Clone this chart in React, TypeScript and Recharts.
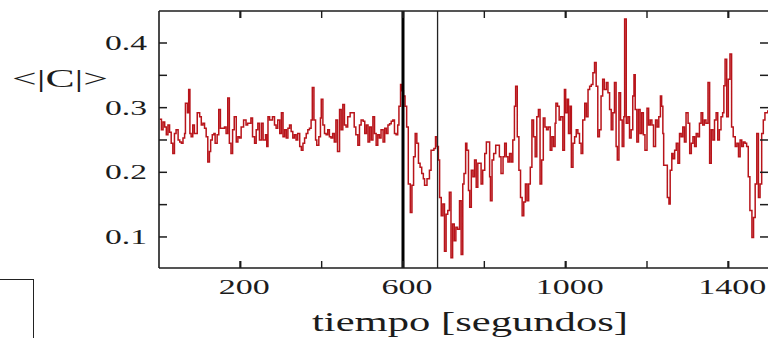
import React from 'react';
import { LineChart, Line, XAxis, YAxis, ReferenceLine, Label } from 'recharts';

// time in seconds
const times = [
  2, 6, 10, 14, 18, 22, 26, 30, 34, 38, 42, 47, 51, 55, 59, 63, 65, 70, 73, 76, 79, 83, 87, 94, 100, 104, 108, 112, 116, 120,
  124, 127, 131, 135, 138, 143, 147, 151, 157, 161, 165, 169, 173, 177, 181, 185, 190, 194, 198, 202, 208, 214, 218, 226, 230, 235, 239, 243, 247,
  252, 256, 262, 265, 268, 272, 279, 284, 288, 292, 297, 301, 305, 309, 313, 317, 321, 325, 329, 333, 337, 341, 346, 350, 354, 358, 362, 366, 370, 374,
  377, 381, 385, 388, 393, 397, 399, 403, 407, 411, 415, 419, 423, 427, 431, 435, 439, 444, 448, 452, 456, 460, 464, 470, 476, 480, 484, 489, 493, 497,
  502, 506, 510, 514, 518, 522, 526, 530, 534, 538, 542, 546, 551, 555, 559, 563, 567, 571, 575, 579, 583, 587, 590, 594, 597, 601, 605, 609, 613, 618,
  622, 626, 630, 634, 638, 642, 646, 650, 653, 659, 665, 669, 676, 680, 684, 687, 690, 694, 698, 702, 706, 710, 714, 718, 722, 726, 730, 734, 739, 743, 747,
  750, 754, 757, 761, 764, 768, 772, 776, 780, 784, 788, 792, 796, 801, 805, 809, 813, 815, 819, 823, 828, 833, 837, 841, 846, 850, 854, 858, 862, 866,
  870, 874, 877, 881, 885, 889, 893, 897, 901, 905, 909, 913, 917, 921, 925, 929, 933, 937, 941, 945, 949, 953, 957, 962, 966, 970, 974, 976, 980, 984, 988, 993, 997,
  1000, 1004, 1007, 1011, 1014, 1018, 1022, 1026, 1030, 1034, 1038, 1042, 1047, 1051, 1055, 1059, 1063, 1067, 1071, 1075, 1079, 1083, 1087, 1091, 1095,
  1100, 1104, 1108, 1112, 1116, 1120, 1124, 1127, 1131, 1135, 1139, 1143, 1145, 1149, 1153, 1157, 1161, 1165, 1168, 1171, 1175, 1179, 1183, 1187, 1191, 1195,
  1200, 1204, 1208, 1212, 1216, 1221, 1225, 1229, 1233, 1236, 1239, 1241, 1247,
  1250, 1254, 1257, 1261, 1264, 1268, 1272, 1276, 1280, 1284, 1288, 1292, 1296, 1301, 1305, 1309, 1313, 1317, 1321, 1325, 1329, 1333, 1337, 1341, 1345,
  1350, 1354, 1358, 1362, 1366, 1370, 1374, 1378, 1382, 1386, 1389, 1392, 1396, 1400, 1404, 1408, 1412, 1417, 1421, 1425, 1429, 1433, 1437, 1441, 1445,
  1449, 1453, 1458, 1462, 1466, 1470, 1474, 1478, 1482, 1486, 1490, 1497,
];

// <|C|> values
const cValues = [
  0.282, 0.266, 0.278, 0.27, 0.258, 0.273, 0.262, 0.245, 0.229, 0.26, 0.266, 0.25, 0.247, 0.245, 0.253, 0.26, 0.307, 0.292, 0.328, 0.26, 0.255, 0.273, 0.26, 0.292, 0.286, 0.273, 0.276, 0.268, 0.255, 0.216,
  0.232, 0.25, 0.258, 0.26, 0.245, 0.258, 0.297, 0.268, 0.268, 0.27, 0.26, 0.315, 0.245, 0.229, 0.266, 0.286, 0.247, 0.255, 0.253, 0.27, 0.281, 0.273, 0.276, 0.284, 0.255, 0.245, 0.266, 0.276, 0.25,
  0.276, 0.25, 0.258, 0.24, 0.286, 0.281, 0.286, 0.273, 0.268, 0.281, 0.26, 0.292, 0.255, 0.266, 0.253, 0.268, 0.273, 0.263, 0.253, 0.258, 0.25, 0.26, 0.24, 0.234, 0.245, 0.253, 0.26, 0.266, 0.268, 0.281,
  0.331, 0.281, 0.25, 0.242, 0.255, 0.284, 0.313, 0.273, 0.26, 0.258, 0.266, 0.255, 0.253, 0.26, 0.247, 0.281, 0.232, 0.297, 0.266, 0.305, 0.273, 0.27, 0.286, 0.292, 0.292, 0.27, 0.258, 0.242, 0.273, 0.281,
  0.279, 0.26, 0.273, 0.247, 0.27, 0.25, 0.286, 0.26, 0.242, 0.258, 0.253, 0.266, 0.247, 0.268, 0.26, 0.273, 0.275, 0.279, 0.281, 0.26, 0.258, 0.273, 0.302, 0.336, 0.326, 0.318, 0.302, 0.27, 0.182, 0.138,
  0.18, 0.224, 0.26, 0.245, 0.214, 0.208, 0.198, 0.19, 0.18, 0.19, 0.203, 0.234, 0.237, 0.255, 0.24, 0.219, 0.161, 0.133, 0.151, 0.078, 0.135, 0.141, 0.169, 0.068, 0.12, 0.094, 0.115, 0.112, 0.156, 0.073, 0.182,
  0.198, 0.245, 0.234, 0.172, 0.146, 0.203, 0.193, 0.219, 0.177, 0.214, 0.214, 0.182, 0.203, 0.229, 0.247, 0.247, 0.193, 0.156, 0.219, 0.229, 0.242, 0.242, 0.224, 0.198, 0.224, 0.245, 0.224, 0.216, 0.229, 0.216,
  0.25, 0.302, 0.333, 0.255, 0.203, 0.161, 0.133, 0.154, 0.182, 0.156, 0.182, 0.208, 0.281, 0.255, 0.224, 0.286, 0.297, 0.182, 0.219, 0.284, 0.27, 0.266, 0.27, 0.234, 0.255, 0.24, 0.276, 0.307, 0.302, 0.281, 0.286, 0.234, 0.328,
  0.292, 0.313, 0.26, 0.302, 0.208, 0.245, 0.255, 0.266, 0.26, 0.245, 0.229, 0.281, 0.307, 0.286, 0.328, 0.333, 0.336, 0.354, 0.37, 0.333, 0.255, 0.266, 0.318, 0.344, 0.328,
  0.339, 0.323, 0.297, 0.266, 0.292, 0.339, 0.24, 0.219, 0.323, 0.281, 0.24, 0.286, 0.437, 0.276, 0.286, 0.253, 0.266, 0.318, 0.351, 0.297, 0.247, 0.297, 0.26, 0.292, 0.258, 0.234,
  0.299, 0.273, 0.281, 0.273, 0.24, 0.281, 0.27, 0.286, 0.318, 0.302, 0.26, 0.211, 0.211,
  0.161, 0.151, 0.203, 0.229, 0.221, 0.234, 0.245, 0.214, 0.26, 0.255, 0.27, 0.247, 0.292, 0.276, 0.229, 0.245, 0.255, 0.24, 0.26, 0.255, 0.276, 0.292, 0.273, 0.281, 0.276,
  0.339, 0.214, 0.266, 0.25, 0.281, 0.292, 0.25, 0.266, 0.286, 0.292, 0.334, 0.375, 0.286, 0.344, 0.383, 0.27, 0.255, 0.24, 0.245, 0.224, 0.25, 0.24, 0.247, 0.245, 0.24,
  0.193, 0.141, 0.099, 0.13, 0.182, 0.26, 0.161, 0.182, 0.26, 0.281, 0.292, 0.296,
];

const xTicks = [200, 400, 600, 800, 1000, 1200, 1400];
const xTickLabels = ['200', '600', '1000', '1400'];
const yTicks = [0.1, 0.15, 0.2, 0.25, 0.3, 0.35, 0.4];
const yTickLabels = ['0.1', '0.2', '0.3', '0.4'];
const markerTimes = [600, 685];
const xTitle = 'tiempo [segundos]';
const yTitle = '<|C|>';

const data = times.map((t, i) => ({ t, v: cValues[i] }));

const FONT = '"Liberation Serif", "Times New Roman", serif';
const INK = '#1c1c1c';

const BottomTick = (props: any) => {
  const { x, y, payload } = props;
  const label = String(payload.value);
  const major = xTickLabels.includes(label);
  const len = label.length * 17;
  return (
    <g>
      <line x1={x} y1={y} x2={x} y2={y - 7} stroke={INK} strokeWidth={major ? 2.2 : 1.4} />
      {major && (
        <text x={x + 4 - len / 2} y={y + 26} fontFamily={FONT} fontSize={20} fill={INK}
          textLength={len} lengthAdjust="spacingAndGlyphs">{label}</text>
      )}
    </g>
  );
};

const TopTick = (props: any) => {
  const { x, y, payload } = props;
  const major = xTickLabels.includes(String(payload.value));
  return <line x1={x} y1={y} x2={x} y2={y + 7} stroke={INK} strokeWidth={major ? 2.2 : 1.4} />;
};

const isMajorY = (v: number) => yTickLabels.includes(v.toFixed(1)) && Math.abs(v * 10 - Math.round(v * 10)) < 1e-6;

const LeftTick = (props: any) => {
  const { x, y, payload } = props;
  const v = Number(payload.value);
  const major = isMajorY(v);
  return (
    <g>
      <line x1={x} y1={y} x2={x + 8} y2={y} stroke={INK} strokeWidth={1.5} />
      {major && (
        <text x={x - 54} y={y + 7} fontFamily={FONT} fontSize={20} fill={INK}
          textLength={42} lengthAdjust="spacingAndGlyphs">{v.toFixed(1)}</text>
      )}
    </g>
  );
};

const RightTick = (props: any) => {
  const { x, y } = props;
  return <line x1={x} y1={y} x2={x - 9} y2={y} stroke={INK} strokeWidth={1.5} />;
};

export default function App() {
  return (
    <div style={{ position: 'absolute', left: 0, top: 0, width: 768, height: 338, overflow: 'hidden', background: '#fff' }}>
      <LineChart width={780} height={338} data={data} margin={{ top: 0, right: 0, bottom: 0, left: 0 }}>
        <XAxis xAxisId="b" dataKey="t" type="number" domain={[0, 1500]} ticks={xTicks} interval={0}
          allowDataOverflow orientation="bottom" height={70} tickSize={0} tickMargin={0} tickLine={false}
          axisLine={{ stroke: INK, strokeWidth: 1.6 }} tick={BottomTick}>
          <Label content={(p: any) => {
            const vb = p.viewBox || { x: 159, y: 268 };
            return (
              <text x={vb.x + 153} y={vb.y + 63} fontFamily={FONT} fontSize={28} fill={INK}
                textLength={316} lengthAdjust="spacingAndGlyphs">{xTitle}</text>
            );
          }} />
        </XAxis>
        <XAxis xAxisId="t" dataKey="t" type="number" domain={[0, 1500]} ticks={xTicks} interval={0}
          allowDataOverflow orientation="top" height={11} tickSize={0} tickMargin={0} tickLine={false}
          axisLine={{ stroke: INK, strokeWidth: 1.6 }} tick={TopTick} />
        <YAxis yAxisId="l" type="number" domain={[0.052, 0.4495]} ticks={yTicks} interval={0}
          allowDataOverflow orientation="left" width={159} tickSize={0} tickMargin={0} tickLine={false}
          axisLine={{ stroke: INK, strokeWidth: 1.6 }} tick={LeftTick}>
          <Label content={(p: any) => {
            const vb = p.viewBox || { x: 0, y: 11 };
            return (
              <text x={vb.x + 12} y={vb.y + 76} fontFamily={FONT} fontSize={26} fill={INK}
                textLength={96} lengthAdjust="spacingAndGlyphs">{yTitle}</text>
            );
          }} />
        </YAxis>
        <YAxis yAxisId="r" type="number" domain={[0.052, 0.4495]} ticks={yTicks} interval={0}
          allowDataOverflow orientation="right" width={11} tickSize={0} tickMargin={0} tickLine={false}
          axisLine={{ stroke: INK, strokeWidth: 1.6 }} tick={RightTick} />
        <Line xAxisId="t" yAxisId="r" dataKey="v" stroke="none" dot={false} activeDot={false}
          isAnimationActive={false} legendType="none" />
        <Line xAxisId="b" yAxisId="l" type="stepAfter" dataKey="v" stroke="#b8141a" strokeWidth={1.5}
          dot={false} activeDot={false} isAnimationActive={false} />
        <ReferenceLine xAxisId="b" yAxisId="l" x={markerTimes[0]} stroke="#000" strokeWidth={3} />
        <ReferenceLine xAxisId="b" yAxisId="l" x={markerTimes[1]} stroke="#222" strokeWidth={1.3} />
      </LineChart>
      <div style={{ position: 'absolute', left: -2, top: 279, width: 36, height: 70, borderTop: '1.5px solid #222', borderRight: '1.5px solid #222', boxSizing: 'border-box' }} />
    </div>
  );
}
